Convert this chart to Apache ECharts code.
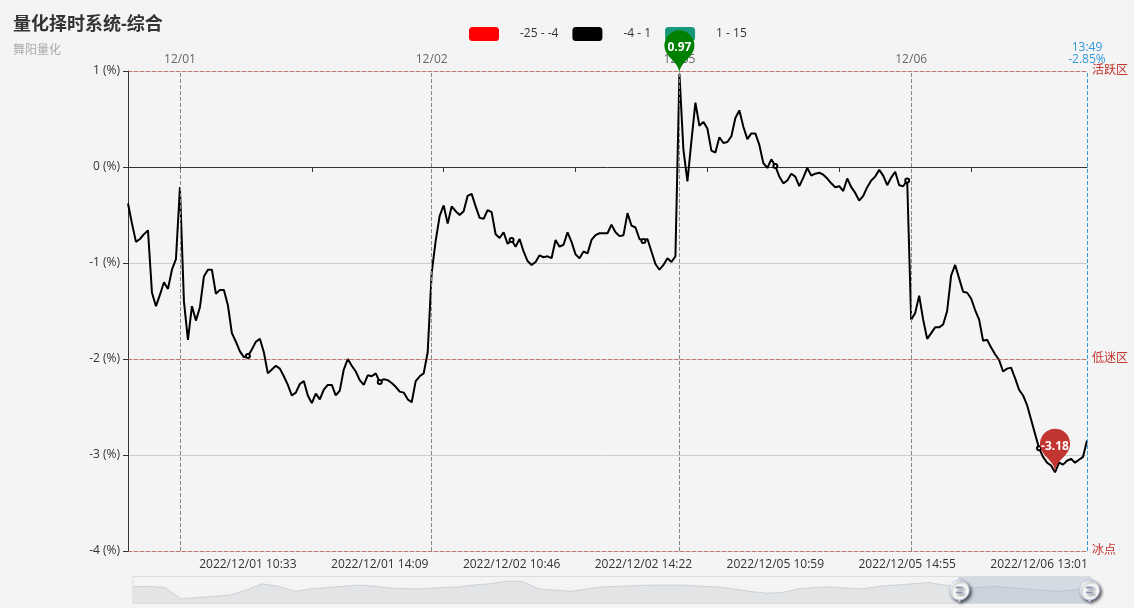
<!DOCTYPE html>
<html>
<head>
<meta charset="utf-8">
<script src="https://cdn.jsdelivr.net/npm/echarts@6/dist/echarts.min.js"></script>
<style>
html,body{margin:0;padding:0;background:#f4f4f4;}
#chart{width:1134px;height:608px;}
</style>
</head>
<body>
<div id="chart"></div>
<script>
// ---- data ----
const dayDates = ['2022/11/30', '2022/12/01', '2022/12/02', '2022/12/05', '2022/12/06'];
const dayTickLabels = ['12/01', '12/02', '12/05', '12/06'];
const d1130 = [-0.38,-0.59,-0.78,-0.75,-0.70,-0.66,-1.31,-1.45,-1.33,-1.20,-1.27,-1.07,-0.96];
const d1201 = [-0.21,-1.40,-1.80,-1.45,-1.60,-1.46,-1.14,-1.07,-1.07,-1.32,-1.28,-1.28,-1.44,-1.73,-1.82,-1.92,
  -1.98,-1.97,-1.90,-1.82,-1.79,-1.93,-2.15,-2.11,-2.07,-2.10,-2.18,-2.27,-2.38,-2.35,-2.26,-2.23,-2.38,-2.46,
  -2.36,-2.42,-2.32,-2.27,-2.27,-2.38,-2.33,-2.11,-2.00,-2.07,-2.13,-2.22,-2.27,-2.17,-2.18,-2.15,-2.24,-2.21,
  -2.22,-2.25,-2.29,-2.34,-2.35,-2.42,-2.45,-2.23,-2.18,-2.15,-1.93];
const d1202 = [-1.10,-0.77,-0.51,-0.40,-0.59,-0.41,-0.46,-0.50,-0.46,-0.30,-0.28,-0.41,-0.53,-0.54,-0.45,-0.47,
  -0.70,-0.74,-0.68,-0.80,-0.76,-0.83,-0.75,-0.88,-0.98,-1.02,-0.99,-0.92,-0.94,-0.93,-0.95,-0.76,-0.83,-0.81,
  -0.68,-0.78,-0.91,-0.95,-0.88,-0.90,-0.76,-0.71,-0.69,-0.69,-0.69,-0.60,-0.68,-0.72,-0.71,-0.48,-0.61,-0.63,
  -0.75,-0.77,-0.75,-0.88,-1.01,-1.07,-1.02,-0.95,-0.99,-0.93];
const d1205 = [0.97,0.18,-0.15,0.27,0.67,0.43,0.47,0.40,0.17,0.15,0.31,0.25,0.26,0.32,0.51,0.59,0.42,0.29,0.35,
  0.35,0.23,0.04,-0.01,0.08,0.01,-0.10,-0.17,-0.14,-0.07,-0.10,-0.20,-0.11,-0.01,-0.09,-0.07,-0.06,-0.08,-0.12,
  -0.17,-0.21,-0.20,-0.25,-0.12,-0.21,-0.27,-0.35,-0.30,-0.21,-0.14,-0.10,-0.03,-0.09,-0.19,-0.11,-0.05,-0.19,
  -0.20,-0.14];
const d1206 = [-1.59,-1.52,-1.34,-1.59,-1.79,-1.73,-1.67,-1.67,-1.64,-1.50,-1.13,-1.02,-1.16,-1.30,-1.31,-1.37,
  -1.49,-1.59,-1.81,-1.80,-1.88,-1.95,-2.01,-2.13,-2.10,-2.09,-2.20,-2.32,-2.38,-2.48,-2.63,-2.78,-2.93,-3.02,
  -3.08,-3.11,-3.18,-3.08,-3.10,-3.06,-3.04,-3.08,-3.05,-3.02,-2.85];
const dayFirstMinute = [192, 0, 0, 0, 0];     // minutes after 09:30 (trading time) of first point
const dayLastMinute = [240, 240, 240, 240, 169];
const bottomLabels = ['2022/12/01 10:33', '2022/12/01 14:09', '2022/12/02 10:46', '2022/12/02 14:22',
  '2022/12/05 10:59', '2022/12/05 14:55', '2022/12/06 13:01'];
const bottomLabelIdx = [30, 63, 96, 129, 162, 195, 228];
const lastPointLabel = '13:49\n-2.85%';
const zoneValues = [1, -2, -4];
const zoneNames = ['活跃区', '低迷区', '冰点'];
const yTicks = { min: -4, max: 1, step: 1 };
// long history shown in the slider's data shadow
const historyValues = [10.5,11,10,1,2,3,4,8,13,11,7,9,10,11,12,11,9.5,9,9,10,10.5,12,13,15,15,9,8,7,9,10.5,
  11,11.5,12,12,12,11,10.5,9,7,5.5,6,9,10,10.5,9.5,9,11,12,13,14,12,10.5,10,11,10,9,8,7,8,11];
const zoomStart = 86.2, zoomEnd = 100;

// ---- build ----
const dayValues = [d1130, d1201, d1202, d1205, d1206];
const values = [].concat(...dayValues);
function tradeTime(m) {
  const t = m <= 120 ? 570 + m : 780 + (m - 120);
  const h = Math.floor(t / 60), mm = t % 60;
  return String(h).padStart(2, '0') + ':' + String(mm).padStart(2, '0');
}
const xCats = [];
const dayStartIdx = [];
dayValues.forEach((arr, d) => {
  dayStartIdx.push(xCats.length);
  const n = arr.length;
  for (let k = 0; k < n; k++) {
    const m = Math.round(dayFirstMinute[d] + (dayLastMinute[d] - dayFirstMinute[d]) * k / Math.max(1, n - 1));
    xCats.push(dayDates[d] + ' ' + tradeTime(m));
  }
});
const boundaryIdx = dayStartIdx.slice(1);
const historyCats = historyValues.map((_, i) => 'h' + i);

const chart = echarts.init(document.getElementById('chart'), null, { renderer: 'canvas' });
const FONT = "'Open Sans', 'Noto Sans CJK SC', sans-serif";
const zoneStyle = { color: 'rgba(194,53,49,0.6)', type: 'dashed', width: 1 };

const option = {
  backgroundColor: '#f4f4f4',
  animation: false,
  textStyle: { fontFamily: FONT },
  title: {
    text: '量化择时系统-综合',
    subtext: '舞阳量化',
    left: 8, top: 11, itemGap: 11,
    textStyle: { fontSize: 18, fontWeight: 'bold', color: '#333', fontFamily: FONT },
    subtextStyle: { fontSize: 12, color: '#aaa', fontFamily: FONT }
  },
  visualMap: {
    type: 'piecewise', orient: 'horizontal', left: 454, top: 12, seriesIndex: 0,
    itemWidth: 30, itemHeight: 14, itemGap: 14, textGap: 21,
    textStyle: { color: '#333', fontSize: 12, fontFamily: FONT },
    pieces: [
      { gt: -25, lte: -4, color: '#ff0000' },
      { gt: -4, lte: 1, color: '#000000' },
      { gt: 1, lte: 15, color: '#16997a' }
    ]
  },
  grid: [
    { left: 128, right: 47, top: 71, bottom: 57 },
    { left: 130, right: 46, top: 576, height: 28, show: false }
  ],
  xAxis: [
    { // axis line through zero with ticks
      type: 'category', data: xCats, boundaryGap: false, position: 'bottom', gridIndex: 0,
      axisLine: { onZero: true, lineStyle: { color: '#333' } },
      axisTick: { interval: (i) => (i - 13) % 33 === 0, length: 5, lineStyle: { color: '#333' } },
      axisLabel: { show: false }, splitLine: { show: false }
    },
    { // bottom time labels
      type: 'category', data: xCats, boundaryGap: false, position: 'bottom', gridIndex: 0,
      axisLine: { show: false, onZero: false }, axisTick: { show: false }, splitLine: { show: false },
      axisLabel: {
        interval: (i) => bottomLabelIdx.indexOf(i) >= 0,
        formatter: (v, i) => { const k = bottomLabelIdx.indexOf(i); return k >= 0 ? bottomLabels[k] : ''; },
        color: '#333', fontSize: 12, margin: 8, fontFamily: FONT
      }
    },
    { type: 'category', data: historyCats, gridIndex: 1, show: false, boundaryGap: false }
  ],
  yAxis: [
    {
      type: 'value', min: yTicks.min, max: yTicks.max, interval: yTicks.step, gridIndex: 0,
      axisLine: { show: true, onZero: false, lineStyle: { color: '#333' } },
      axisTick: { show: true, length: 5, lineStyle: { color: '#333' } },
      axisLabel: { formatter: '{value} (%)', color: '#333', fontSize: 12, margin: 8, fontFamily: FONT },
      splitLine: { show: true, lineStyle: { color: '#ccc', width: 1 } }
    },
    { type: 'value', gridIndex: 1, show: false, scale: true }
  ],
  dataZoom: [{
    type: 'slider', xAxisIndex: 2, start: zoomStart, end: zoomEnd,
    left: 130, right: 46, top: 576, height: 28,
    showDetail: false, brushSelect: false, moveHandleSize: 0, showDataShadow: true,
    backgroundColor: 'rgba(47,69,84,0)', borderColor: '#ddd',
    fillerColor: 'rgba(167,183,204,0.4)',
    dataBackground: {
      lineStyle: { color: '#2f4554', width: 0.5, opacity: 0.3 },
      areaStyle: { color: 'rgba(47,69,84,0.3)', opacity: 0.3 }
    },
    selectedDataBackground: {
      lineStyle: { color: '#2f4554', width: 0.5, opacity: 0.3 },
      areaStyle: { color: 'rgba(47,69,84,0.3)', opacity: 0.3 }
    },
    handleIcon: 'M10.7,11.9v-1.3H9.3v1.3c-4.9,0.3-8.8,4.4-8.8,9.4c0,5,3.9,9.1,8.8,9.4v1.3h1.3v-1.3c4.9-0.3,8.8-4.4,8.8-9.4C19.5,16.3,15.6,12.2,10.7,11.9z M13.3,24.4H6.7V23h6.6V24.4z M13.3,19.6H6.7v-1.4h6.6V19.6z',
    handleSize: '80%',
    handleStyle: { color: '#fff', shadowBlur: 3, shadowColor: 'rgba(0,0,0,0.6)', shadowOffsetX: 2, shadowOffsetY: 2 }
  }],
  series: [
    {
      name: '综合', type: 'line', xAxisIndex: 1, yAxisIndex: 0, data: values,
      symbol: 'emptyCircle', symbolSize: 4, showSymbol: true,
      lineStyle: { width: 2 },
      itemStyle: { borderWidth: 1 },
      silent: true,
      markPoint: {
        z: 10, symbol: 'pin', symbolSize: 50,
        label: { color: '#fff', fontWeight: 'bold', fontSize: 12, fontFamily: FONT },
        data: [
          { type: 'max', name: 'max', itemStyle: { color: '#008000' } },
          { type: 'min', name: 'min', itemStyle: { color: '#c23531' } }
        ]
      },
      markLine: {
        silent: true, symbol: 'none', animation: false,
        data: [].concat(
          zoneValues.map((v, k) => ({
            yAxis: v, lineStyle: zoneStyle,
            label: { formatter: zoneNames[k], position: 'end', color: '#c23531', fontSize: 12, fontFamily: FONT }
          })),
          boundaryIdx.map((ix, k) => ({
            xAxis: ix, lineStyle: { color: '#888', type: 'dashed', width: 1 },
            label: { formatter: dayTickLabels[k], position: 'end', color: '#666', fontSize: 12, fontFamily: FONT }
          })),
          [{
            xAxis: values.length - 1, lineStyle: { color: '#3398db', type: 'dashed', width: 1 },
            label: { formatter: lastPointLabel, position: 'end', color: '#3398db', fontSize: 12, lineHeight: 12, fontFamily: FONT }
          }]
        )
      }
    },
    {
      name: 'history', type: 'line', xAxisIndex: 2, yAxisIndex: 1, data: historyValues,
      showSymbol: false, silent: true, lineStyle: { opacity: 0 }, z: 0
    }
  ]
};
chart.setOption(option);
</script>
</body>
</html>
